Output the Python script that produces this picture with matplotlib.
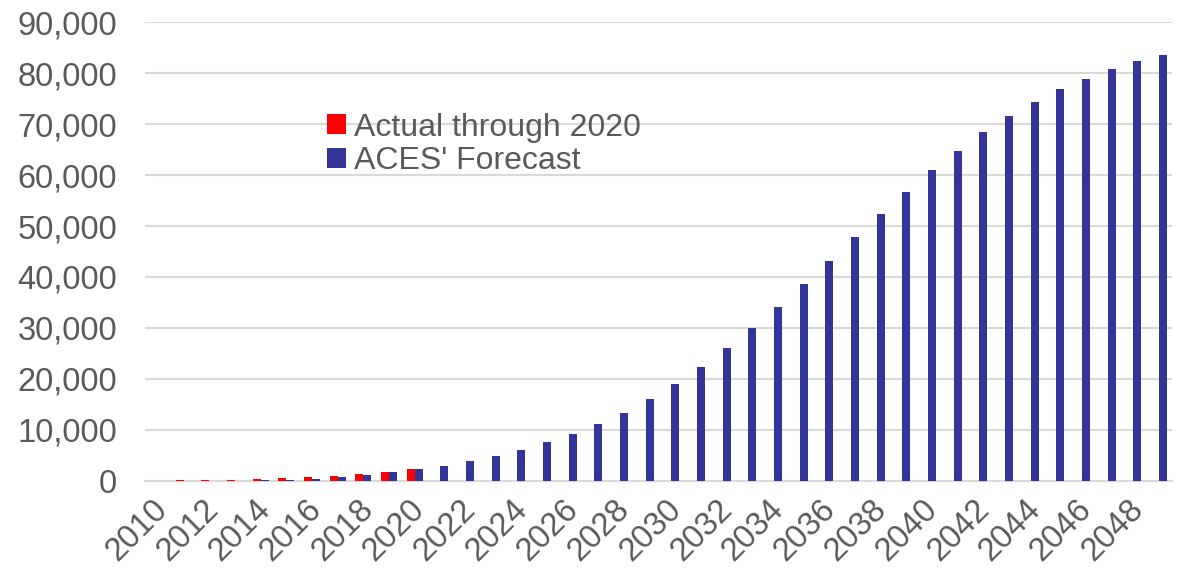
import numpy as np
import matplotlib.pyplot as plt
import matplotlib.transforms as mtransforms
from matplotlib.ticker import FuncFormatter

plt.rcParams['font.family'] = ['Liberation Sans', 'DejaVu Sans']

years = list(range(2010, 2050))

# actual sales through 2020 (NaN afterwards)
actual = [80, 100, 150, 250, 400, 550, 750, 1000, 1400, 1800, 2300] + [np.nan] * 29

# ACES' forecast
forecast = [0, 0, 0, 50, 100, 250, 450, 750, 1200, 1700, 2300,
            3000, 3900, 4900, 6100, 7600, 9200, 11200, 13400, 16100, 19100,
            22400, 26100, 30000, 34200, 38700, 43200, 47900, 52400, 56700, 60900,
            64800, 68400, 71500, 74250, 76800, 78900, 80700, 82300, 83600]

tick_labels = [str(y) for y in years[::2]]

RED = "#FF0000"
BLUE = "#333399"
GREY = "#595959"

fig = plt.figure(figsize=(11.79, 5.69), dpi=100)
ax = fig.add_axes([0.123, 0.1547, 0.871, 0.8066])

x = np.arange(len(years))
w = 0.31
ax.bar(x - w / 2, actual, width=w, color=RED, label="Actual through 2020", zorder=3)
ax.bar(x + w / 2, forecast, width=w, color=BLUE, label="ACES' Forecast", zorder=3)

ax.set_ylim(0, 90000)
ax.set_xlim(-0.5, len(years) - 0.5)
ax.set_yticks(np.arange(0, 90001, 10000))
ax.yaxis.set_major_formatter(FuncFormatter(lambda v, p: f"{int(v):,}"))
ax.grid(axis="y", color="#d9d9d9", linewidth=1.5, zorder=0)

ax.set_xticks(x[::2])
ax.set_xticklabels(tick_labels, rotation=45, ha="right", va="center",
                   rotation_mode="anchor")
ax.tick_params(axis="both", length=0, labelsize=23.5, labelcolor=GREY)
ax.tick_params(axis="y", pad=20)
ax.tick_params(axis="x", pad=17)

# nudge the rotated year labels a little to the right
shift = mtransforms.ScaledTranslation(5 / 100, 0, fig.dpi_scale_trans)
for lbl in ax.get_xticklabels():
    lbl.set_transform(lbl.get_transform() + shift)

for s in ["top", "right", "left"]:
    ax.spines[s].set_visible(False)
ax.spines["bottom"].set_color("#d9d9d9")
ax.spines["bottom"].set_linewidth(1.5)

leg = ax.legend(loc="upper left", bbox_to_anchor=(0.264, 0.83),
                bbox_transform=fig.transFigure, frameon=False, fontsize=23,
                handlelength=0.58, handleheight=0.58, handletextpad=0.25,
                labelspacing=0.1, borderpad=0)
for t in leg.get_texts():
    t.set_color(GREY)

fig.savefig("out.png", dpi=100)
